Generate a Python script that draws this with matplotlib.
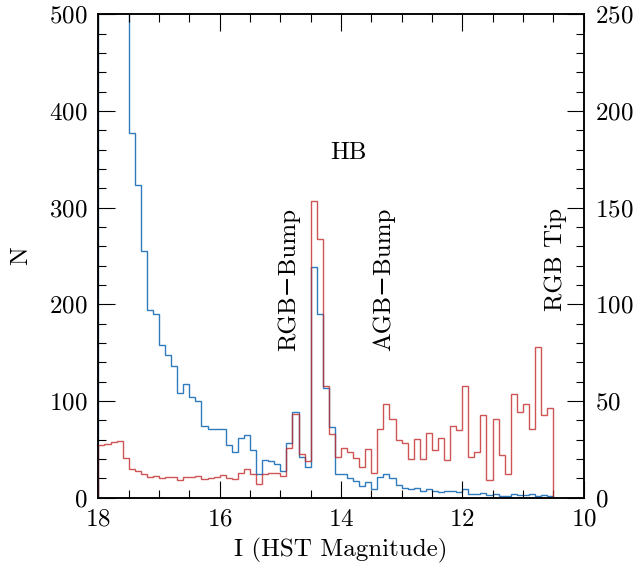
import numpy as np
import matplotlib.pyplot as plt
from matplotlib.ticker import MultipleLocator

plt.rcParams['font.family'] = ['cmr10', 'DejaVu Serif']
plt.rcParams['axes.formatter.use_mathtext'] = True

# 0.1 mag bins running from I = 18.0 (faint) to I = 10.5 (bright)
bin_faint = 18.0
bin_bright = 10.5
bin_width = 0.1

# counts per bin, listed from faint to bright
counts_all = [1150, 980, 850, 720, 600,
              377, 323, 255, 194, 190, 158, 148, 136, 108, 118, 104, 100, 74,
              71, 71, 71, 55, 47, 62, 65, 49, 25, 39, 38, 35, 28, 57, 89, 42, 32,
              239, 190, 113, 73, 25, 24, 20, 17, 12, 16, 9, 21, 24, 20, 13, 10, 9,
              10, 7, 9, 7, 6, 7,
              7, 6, 9, 4, 4, 5, 3, 4, 2, 2, 4, 3, 3, 4, 2, 3, 2]

counts_sel = [27, 28, 29, 29.5, 20.5, 15, 14, 12.5, 10.5, 11, 10, 10.5, 10.5, 9,
              10.5, 10.5, 11,
              9.5, 10, 10.5, 11.5, 10, 9.5, 13, 15, 12.5, 7, 12, 13, 13, 11, 25.5,
              43.5, 22.5, 19,
              153.5, 134, 57.5, 33, 21, 25.5, 23.5, 20.5, 16, 25, 13, 35.5, 48.5,
              40.5, 30, 28.5, 20, 30.5, 20, 33.5, 24.5, 31, 19.5,
              37, 35, 58, 21, 23.5, 42.5, 9, 40.5, 22, 12.5, 53.5, 44.5, 48.5, 35.5,
              78, 42.5, 46.5]

nbins = int(round((bin_faint - bin_bright) / bin_width))
edges = np.linspace(bin_bright, bin_faint, nbins + 1)

fig = plt.figure(figsize=(6.43, 5.71), dpi=100)
ax = fig.add_axes([0.153, 0.1284, 0.7545, 0.8467])
ax2 = ax.twinx()

ax.stairs(counts_all[::-1], edges, baseline=0, color='#1a6cb6', lw=1.0, alpha=0.9)
ax2.stairs(counts_sel[::-1], edges, baseline=0, color='#c42b2b', lw=1.0, alpha=0.8)

ax.set_xlim(18, 10)
ax.set_ylim(0, 500)
ax2.set_ylim(0, 250)

ax.xaxis.set_major_locator(MultipleLocator(2))
ax.xaxis.set_minor_locator(MultipleLocator(0.5))
ax.yaxis.set_major_locator(MultipleLocator(100))
ax.yaxis.set_minor_locator(MultipleLocator(20))
ax2.yaxis.set_major_locator(MultipleLocator(50))
ax2.yaxis.set_minor_locator(MultipleLocator(10))

fs = 18
ax.tick_params(which='both', direction='in', top=True, right=False, labelsize=fs, width=0.8, pad=8)
ax.tick_params(which='major', length=12)
ax.tick_params(which='minor', length=6)
ax2.tick_params(which='both', direction='in', labelsize=fs, width=0.8, pad=8)
ax2.tick_params(which='major', length=12)
ax2.tick_params(which='minor', length=6)

for a in (ax, ax2):
    for s in a.spines.values():
        s.set_linewidth(1.1)

ax.set_xlabel('I (HST Magnitude)', fontsize=fs, labelpad=5)
ax.set_ylabel('N', fontsize=fs, labelpad=12)

ax.text(13.87, 357, 'HB', fontsize=fs, ha='center', va='center')
ax.text(14.86, 300, 'RGB\u2212Bump', fontsize=fs, rotation=90, ha='center', va='top')
ax.text(13.29, 300, 'AGB\u2212Bump', fontsize=fs, rotation=90, ha='center', va='top')
ax.text(10.45, 300, 'RGB Tip', fontsize=fs, rotation=90, ha='center', va='top')

fig.savefig('out.png', dpi=100)
